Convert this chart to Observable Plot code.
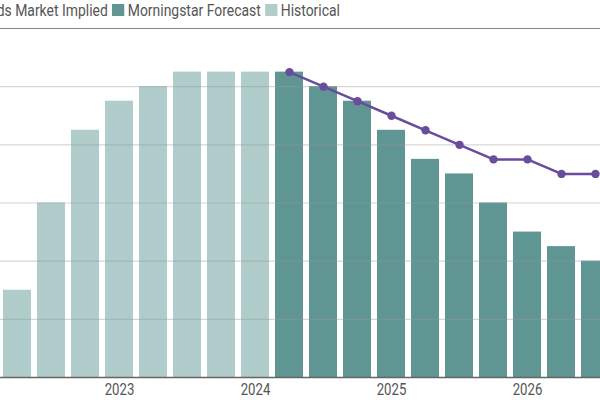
<!DOCTYPE html>
<html>
<head>
<meta charset="utf-8">
<script src="https://cdn.jsdelivr.net/npm/d3@7"></script>
<script src="https://cdn.jsdelivr.net/npm/@observablehq/plot@0.6"></script>
<style>
  html, body { margin: 0; padding: 0; background: #fff; }
  #wrap { position: relative; width: 600px; height: 400px; overflow: hidden;
          font-family: "Roboto", sans-serif; }
  #legendBox { height: 20px; position: relative; }
  #legend { position: absolute; top: 0; left: 0; height: 20px; white-space: nowrap; display: flex; align-items: center;
            font-size: 17px; color: #555; line-height: 20px; transform-origin: 0 0; }
  .item { display: inline-flex; align-items: center; }
  .sw { display: inline-block; height: 12px; }
  .ln { display: inline-block; height: 3px; background: #6a4c9c; }
  #chart svg { display: block; }
</style>
</head>
<body>
<div id="wrap">
  <div id="legendBox"><div id="legend"></div></div>
  <div id="chart"></div>
</div>
<script>
const quarters = ["2022Q2","2022Q3","2022Q4","2023Q1","2023Q2","2023Q3","2023Q4","2024Q1",
                  "2024Q2","2024Q3","2024Q4","2025Q1","2025Q2","2025Q3","2025Q4","2026Q1","2026Q2","2026Q3"];
const historical = [1.5, 3.0, 4.25, 4.75, 5.0, 5.25, 5.25, 5.25];
const forecast = [5.25, 5.0, 4.75, 4.25, 3.75, 3.5, 3.0, 2.5, 2.25, 2.0];
const implied = [5.25, 5.0, 4.75, 4.5, 4.25, 4.0, 3.75, 3.75, 3.5, 3.5];
const yearTicks = ["2023Q1","2024Q1","2025Q1","2026Q1"];
const seriesNames = ["Fed Funds Market Implied", "Morningstar Forecast", "Historical"];
const colors = {"Fed Funds Market Implied": "#6a4c9c", "Morningstar Forecast": "#5f9693", "Historical": "#b0cccb"};

const bars = [
  ...historical.map((v, i) => ({q: quarters[i], v, kind: "Historical"})),
  ...forecast.map((v, i) => ({q: quarters[i + historical.length], v, kind: "Morningstar Forecast"}))
];
const line = implied.map((v, i) => ({q: quarters[i + historical.length], v}));

// legend
const legend = document.getElementById("legend");
const swatches = [], items = [], labels = [];
seriesNames.forEach((name, i) => {
  const it = document.createElement("span");
  it.className = "item";
  const sw = document.createElement("span");
  if (i === 0) { sw.className = "ln"; }
  else { sw.className = "sw"; sw.style.background = colors[name]; }
  const tx = document.createElement("span");
  tx.textContent = name;
  it.appendChild(sw);
  it.appendChild(tx);
  legend.appendChild(it);
  swatches.push(sw); items.push(it); labels.push(tx);
});
// condensed look: scale legend so "Morningstar Forecast" is as wide as in the reference
const s = Math.min(1, 133 / labels[1].getBoundingClientRect().width);
legend.style.transform = `scaleX(${s})`;
swatches.forEach((sw, i) => { sw.style.width = ((i === 0 ? 18 : 12) / s) + "px"; sw.style.marginRight = (3.5 / s) + "px"; });
items.forEach(it => { it.style.marginRight = (4.5 / s) + "px"; });

const step = 34.24, n = quarters.length, pIn = 0.182, pOut = pIn / 2;
const first = 1 - step * pIn / 2;
const chart = Plot.plot({
  width: 600,
  height: 380,
  marginTop: 8,
  marginBottom: 23,
  marginLeft: 0,
  marginRight: 0,
  style: {fontFamily: 'Roboto, sans-serif', fontSize: "16.5px", color: "#555", background: "#fff"},
  x: {type: "band", domain: quarters, range: [first, first + step * n], paddingInner: pIn, paddingOuter: pOut, align: 0.5},
  y: {domain: [0, 6]},
  marks: [
    Plot.barY(bars, {x: "q", y: "v", fill: d => colors[d.kind]}),
    Plot.ruleY([1, 2, 3, 4, 5], {stroke: "#999", strokeOpacity: 0.4, strokeWidth: 1.2}),
    Plot.ruleY([6], {stroke: "#888", strokeWidth: 1.2}),
    Plot.ruleY([0], {stroke: "#666", strokeWidth: 1.5}),
    Plot.line(line, {x: "q", y: "v", stroke: colors["Fed Funds Market Implied"], strokeWidth: 2.5}),
    Plot.dot(line, {x: "q", y: "v", r: 4.2, fill: colors["Fed Funds Market Implied"], stroke: "none"}),
    Plot.axisX({ticks: yearTicks, tickSize: 0, tickPadding: 6, tickFormat: q => q.slice(0, 4), label: null, fill: "#555"}),
    Plot.axisY({ticks: [], label: null})
  ]
});
document.getElementById("chart").appendChild(chart);

// condense the axis labels horizontally, like the reference's condensed face
chart.querySelectorAll("g[aria-label='x-axis tick label'] text").forEach(t => {
  const tr = t.getAttribute("transform") || "";
  t.setAttribute("transform", tr + " scale(0.8,1)");
});

// shift legend so it sits like the reference (cropped at left)
const a = swatches[1].getBoundingClientRect().left;
legend.style.left = (112.5 - a) + "px";
</script>
</body>
</html>
